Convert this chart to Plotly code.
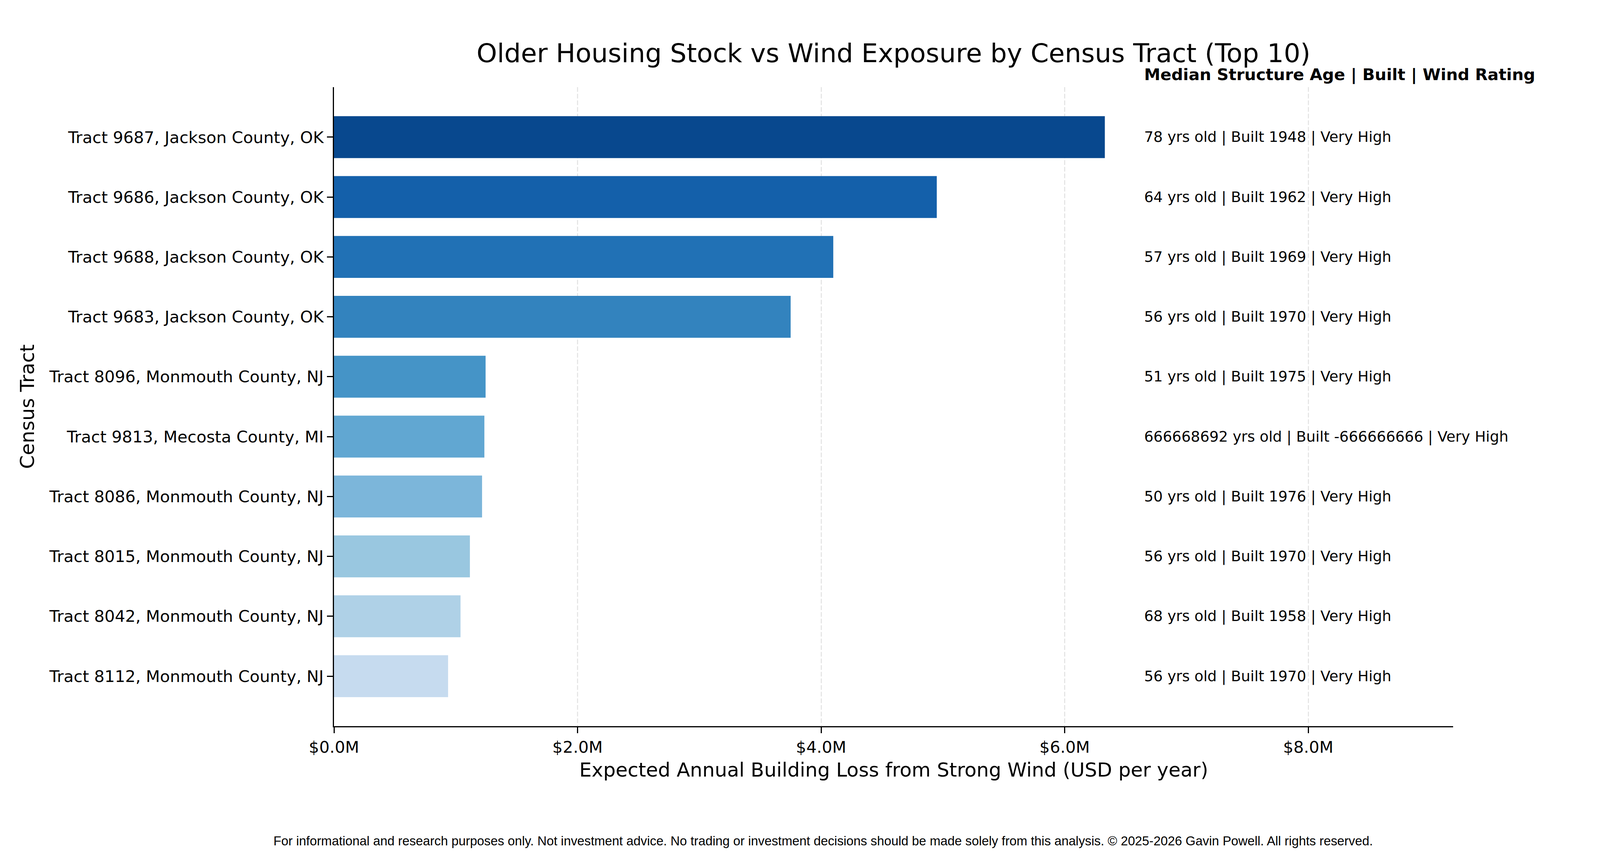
import plotly.graph_objects as go

# top 10 tracts, ordered by expected annual loss (largest first)
tracts = [
    'Tract 9687, Jackson County, OK',
    'Tract 9686, Jackson County, OK',
    'Tract 9688, Jackson County, OK',
    'Tract 9683, Jackson County, OK',
    'Tract 8096, Monmouth County, NJ',
    'Tract 9813, Mecosta County, MI',
    'Tract 8086, Monmouth County, NJ',
    'Tract 8015, Monmouth County, NJ',
    'Tract 8042, Monmouth County, NJ',
    'Tract 8112, Monmouth County, NJ',
]
loss_usd = [6.33e6, 4.95e6, 4.10e6, 3.75e6, 1.245e6, 1.235e6, 1.216e6, 1.116e6, 1.039e6, 0.937e6]
median_age = [78, 64, 57, 56, 51, 666668692, 50, 56, 68, 56]
year_built = [1948, 1962, 1969, 1970, 1975, -666666666, 1976, 1970, 1958, 1970]
wind_rating = ['Very High'] * 10

bar_colors = ['#08488e', '#1460aa', '#2171b5', '#3383be', '#4594c7',
              '#61a7d2', '#7cb6da', '#99c7e0', '#afd1e7', '#c6dbef']

x_ticks = [0, 2e6, 4e6, 6e6, 8e6]
x_ticktext = [f'${v / 1e6:.1f}M' for v in x_ticks]

FONT = 'DejaVu Sans'
pos = list(range(len(tracts)))

fig = go.Figure(go.Bar(
    x=loss_usd, y=pos, orientation='h', width=0.7,
    marker=dict(color=bar_colors, line=dict(width=0)),
))

# label column to the right of the bars
label_x = max(loss_usd) * 1.05
annotations = []
for i in pos:
    annotations.append(dict(
        x=label_x, y=i, xref='x', yref='y', xanchor='left', yanchor='middle',
        text=f'{median_age[i]} yrs old | Built {year_built[i]} | {wind_rating[i]}',
        showarrow=False, font=dict(family=FONT, size=37.5, color='black'),
    ))
annotations.append(dict(
    x=label_x, y=1.0193, xref='x', yref='paper', xanchor='left', yanchor='middle',
    text='<b>Median Structure Age | Built | Wind Rating</b>',
    showarrow=False, font=dict(family=FONT, size=41.7, color='black'),
))
annotations.append(dict(
    x=0.5, y=-0.0685, xref='paper', yref='paper', xanchor='center', yanchor='middle',
    text='Expected Annual Building Loss from Strong Wind (USD per year)',
    showarrow=False, font=dict(family=FONT, size=50, color='black'),
))
annotations.append(dict(
    x=-0.2743, y=0.5, xref='paper', yref='paper', xanchor='center', yanchor='middle',
    text='Census Tract', textangle=-90,
    showarrow=False, font=dict(family=FONT, size=50, color='black'),
))
annotations.append(dict(
    x=0.4373, y=-0.1798, xref='paper', yref='paper', xanchor='center', yanchor='middle',
    text='For informational and research purposes only. Not investment advice. '
         'No trading or investment decisions should be made solely from this analysis. '
         '© 2025-2026 Gavin Powell. All rights reserved.',
    showarrow=False, font=dict(family='Liberation Sans', size=32.8, color='black'),
))

fig.update_layout(
    width=4200, height=2180,
    margin=dict(l=847, r=488, t=215, b=330),
    paper_bgcolor='white', plot_bgcolor='white',
    showlegend=False,
    title=dict(
        text='Older Housing Stock vs Wind Exposure by Census Tract (Top 10)',
        x=0.5, xref='paper', xanchor='center',
        y=1 - 128 / 2180, yref='container', yanchor='middle',
        font=dict(family=FONT, size=66.7, color='black'),
    ),
    annotations=annotations,
)
fig.update_xaxes(
    range=[0, 9.19e6], tickvals=x_ticks, ticktext=x_ticktext,
    showline=True, linecolor='black', linewidth=3.3,
    ticks='outside', ticklen=15, tickwidth=3.3, tickcolor='black',
    tickfont=dict(family=FONT, size=41.7, color='black'),
    showgrid=True, gridcolor='#e6e6e6', gridwidth=3, griddash='12px,5px',
    zeroline=False,
)
fig.update_yaxes(
    range=[9.835, -0.835], tickvals=pos, ticktext=tracts,
    showline=True, linecolor='black', linewidth=3.3,
    ticks='outside', ticklen=15, tickwidth=3.3, tickcolor='black',
    tickfont=dict(family=FONT, size=41.7, color='black'),
    showgrid=False, zeroline=False,
)

fig.write_html('out.html')
